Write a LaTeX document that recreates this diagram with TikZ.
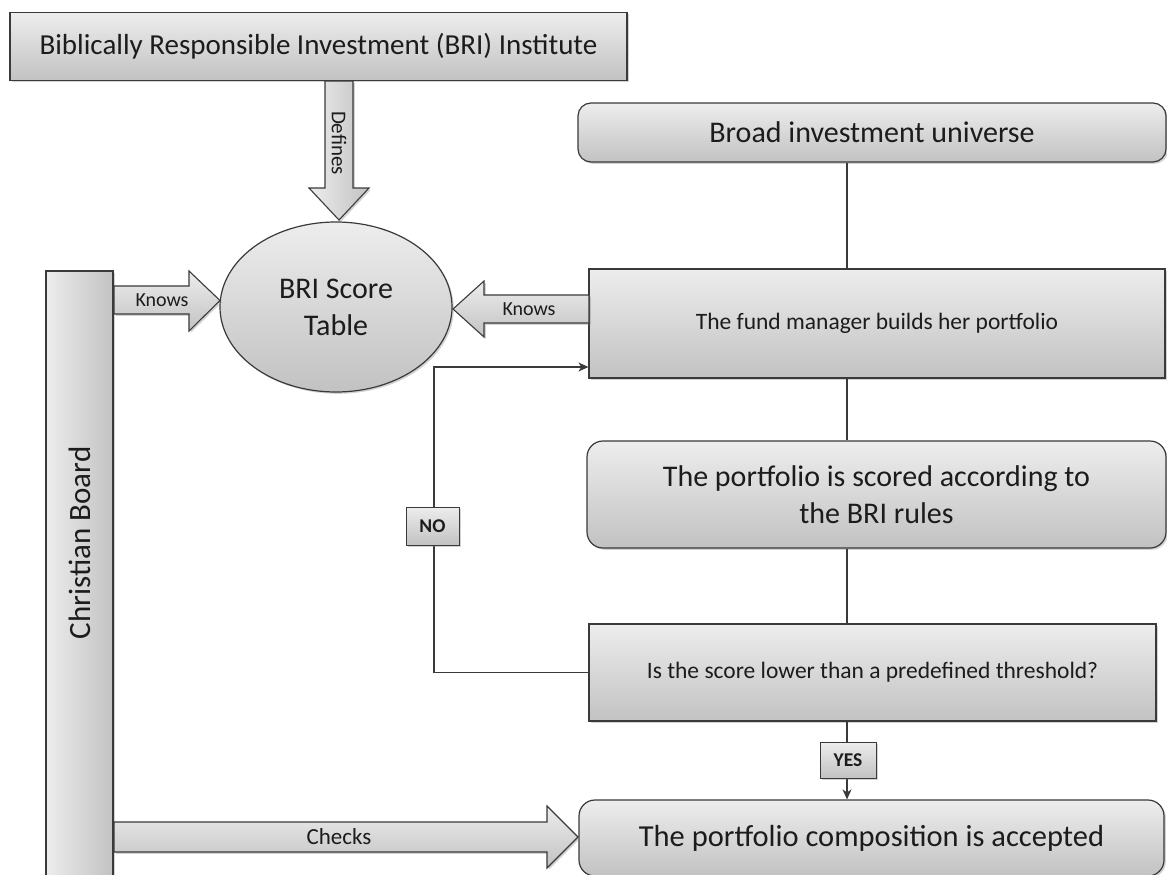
\documentclass[tikz,border=0pt]{standalone}
\usepackage{fontspec}
\setmainfont{Carlito}
\usetikzlibrary{shadows,arrows.meta,shapes.geometric}
\definecolor{lt}{HTML}{EDEDED}
\definecolor{dk}{HTML}{C2C2C2}
\definecolor{linec}{HTML}{3A3A3A}
\definecolor{txt}{HTML}{1C1C1C}
\newcommand{\fsz}[2]{\fontsize{#1}{#2}\selectfont}
\tikzset{
  shd/.style={drop shadow={shadow xshift=1.8pt,shadow yshift=-1.8pt,opacity=0.35}},
  box/.style={draw=linec,line width=1.2pt,top color=lt,bottom color=dk,shd,inner sep=0pt,text=txt,align=center},
  rbox/.style={box,rounded corners=13pt},
  conn/.style={draw=linec,line width=1.2pt},
  tip/.style={-{Stealth[length=10pt,width=9pt,inset=3pt]}},
  lbl/.style={draw=linec,line width=1pt,top color=lt,bottom color=dk,shd,inner sep=0pt,text=txt,font=\bfseries\fsz{19.5}{22}},
  barrow/.style={draw=linec,line width=1.1pt,top color=lt,bottom color=dk,shd},
  atext/.style={text=txt,font=\fsz{20}{22},inner sep=0pt}
}
\begin{document}
\begin{tikzpicture}[x=1pt,y=-1pt]
\useasboundingbox (0,0) rectangle (1167,875);
\clip (0,0) rectangle (1167,875);
\fill[white] (0,0) rectangle (1167,875);

% main nodes
\node[box,minimum width=617pt,minimum height=68pt,font=\fsz{29}{34}] (inst) at (318.5,46.5) {Biblically Responsible Investment (BRI) Institute};
\node[box,ellipse,minimum width=232pt,minimum height=170pt,font=\fsz{30}{37}] (bri) at (336,307) {BRI Score\\Table};
\node[box,left color=lt,right color=dk,minimum width=67pt,minimum height=640pt] (board) at (79.5,591) {};
\node[text=txt,rotate=90,font=\fsz{31}{34},inner sep=0pt] (boardtext) at (80,543) {Christian Board};

\node[rbox,minimum width=588pt,minimum height=59pt,font=\fsz{30}{34}] (broad) at (872,132.5) {Broad investment universe};
\node[box,minimum width=576pt,minimum height=109pt,font=\fsz{23.5}{27}] (fund) at (877,323.5) {The fund manager builds her portfolio};
\node[rbox,rounded corners=16pt,minimum width=579pt,minimum height=107pt,font=\fsz{30}{37}] (scored) at (876.5,494.5) {The portfolio is scored according to\\the BRI rules};
\node[box,minimum width=567pt,minimum height=97pt,font=\fsz{23.5}{27}] (thr) at (872.5,672.5) {Is the score lower than a predefined threshold?};
\node[rbox,rounded corners=16pt,minimum width=585pt,minimum height=76pt,font=\fsz{30.5}{35}] (acc) at (871.5,838) {The portfolio composition is accepted};

% spine connectors
\coordinate (spine) at (847,0);
\draw[conn] (spine |- broad.south) -- (spine |- fund.north);
\draw[conn] (spine |- fund.south) -- (spine |- scored.north);
\draw[conn] (spine |- scored.south) -- (spine |- thr.north);
\draw[conn,tip] (spine |- thr.south) -- (spine |- acc.north);
\node[lbl,minimum width=56pt,minimum height=36pt] (yes) at (848,760) {YES};

% NO loop
\coordinate (loopx) at (434,0);
\draw[conn,tip] (thr.west) -- (loopx |- thr.west) -- (loopx |- 0,367) -- (fund.west |- 0,367);
\node[lbl,minimum width=53pt,minimum height=38pt] (no) at (432.5,526) {NO};

% block arrows
\path[barrow,left color=lt,right color=dk] (325,81) -- (325,188) -- (309,188) -- (339,220) -- (369,188) -- (353,188) -- (353,81) -- cycle;
\node[atext,rotate=-90,font=\fsz{21}{23}] (deftext) at (339,143) {Defines};

\path[barrow] (114,286) -- (189,286) -- (189,271) -- (220,300.5) -- (189,331) -- (189,314) -- (114,314) -- cycle;
\node[atext] (knowsl) at (162,300) {Knows};

\path[barrow] (589,295) -- (484,295) -- (484,281) -- (453,309) -- (484,337) -- (484,323) -- (589,323) -- cycle;
\node[atext] (knowsr) at (529,309) {Knows};

\path[barrow] (114,822) -- (547,822) -- (547,806) -- (578,837) -- (547,868) -- (547,852) -- (114,852) -- cycle;
\node[atext,font=\fsz{23}{25}] (checks) at (339,837) {Checks};
\end{tikzpicture}
\end{document}
